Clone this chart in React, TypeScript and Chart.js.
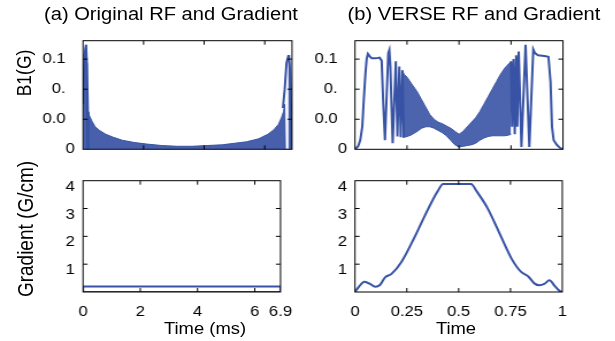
import React, { useEffect, useRef } from "react";
import { Chart, registerables } from "chart.js";

Chart.register(...registerables);

// horizontal stretch of the whole figure (the reference text is horizontally stretched)
const SX = 1.15;
const BLUE = "#3853a5";
const FONT_FAMILY = "'Liberation Sans', Arial, Helvetica, sans-serif";
const TICK_FONT = 14.5;

// ---------------- tick values / labels ----------------
const origTimeTicks = [0, 2, 4, 6, 6.9];
const origTimeLabels = ["0", "2", "4", "6", "6.9"];
const verseTimeTicks = [0, 0.25, 0.5, 0.75, 1];
const verseTimeLabels = ["0", "0.25", "0.5", "0.75", "1"];
const b1Ticks = [0, 0.04, 0.08, 0.12];
const b1Labels = ["0", "0.0  ", "0.  ", "0.1  "];
const gradTicks = [1, 2, 3, 4];
const gradLabels = ["1", "2", "3", "4"];

// ---------------- (a) original RF (ms, G) ----------------
// dense oscillation drawn as its filled envelope
const origRfFillTime = [0, 0.05, 0.1, 0.12, 0.13, 0.135, 0.17, 0.18, 0.22, 0.3, 0.4, 0.55, 0.75, 1.0, 1.3, 1.7, 2.1, 2.6, 3.1, 3.6, 4.1, 4.6, 5.0, 5.4, 5.8, 6.1, 6.3, 6.45, 6.55, 6.62, 6.66, 6.68, 6.79, 6.8, 6.84, 6.87, 6.88, 6.9];
const origRfFillB1 = [0.06, 0.125, 0.139, 0.115, 0.07, 0, 0, 0.048, 0.044, 0.037, 0.03, 0.025, 0.02, 0.016, 0.012, 0.009, 0.007, 0.005, 0.004, 0.004, 0.005, 0.006, 0.008, 0.01, 0.014, 0.02, 0.026, 0.033, 0.042, 0.05, 0.06, 0, 0, 0.124, 0.1, 0.06, 0, 0];
// the two large edge lobes
const origRfLobeTime = [0, 0.05, 0.1, 0.13, 0.16, 0.18, 3.5, 6.6, 6.66, 6.72, 6.78, 6.8, 6.84, 6.87, 6.88];
const origRfLobeB1: (number | null)[] = [0.06, 0.125, 0.139, 0.11, 0.05, 0.0, null, 0.055, 0.08, 0.115, 0.124, 0.124, 0.1, 0.05, 0.0];

// ---------------- (a) original gradient ----------------
const origGradTime = [0, 0, 6.9, 6.9, 0];
const origGradValue = [0, 0.2, 0.2, 0, 0];

// ---------------- (b) VERSE RF (normalised time, G) ----------------
const verseRfTime = [
  0, 0.015, 0.025, 0.035, 0.042, 0.05, 0.056, 0.062, 0.07, 0.08, 0.1, 0.118, 0.128, 0.136, 0.144, 0.152, 0.16, 0.165, 0.17, 0.181, 0.196, 0.204, 0.213, 0.22, 0.228, 0.235,
  0.5,
  0.75, 0.755, 0.762, 0.768, 0.775, 0.78, 0.787, 0.8, 0.82, 0.838, 0.857, 0.865, 0.88, 0.91, 0.93, 0.94, 0.947, 0.955, 0.97, 0.985, 1.0,
];
const verseRfB1: (number | null)[] = [
  0, 0.004, 0.012, 0.03, 0.065, 0.1, 0.12, 0.127, 0.124, 0.121, 0.121, 0.122, 0.118, 0.06, 0.012, 0.07, 0.128, 0.132, 0.11, 0.008, 0.117, 0.017, 0.11, 0.016, 0.105, 0.016,
  null,
  0.117, 0.03, 0.12, 0.02, 0.125, 0.03, 0.13, 0.003, 0.139, 0.003, 0.133, 0.128, 0.125, 0.124, 0.123, 0.09, 0.03, 0.012, 0.006, 0.002, 0,
];
// dense middle oscillation drawn as a band between its envelopes
const verseBandTime = [0.228, 0.235, 0.25, 0.27, 0.3, 0.32, 0.34, 0.36, 0.38, 0.4, 0.42, 0.44, 0.46, 0.48, 0.5, 0.52, 0.54, 0.56, 0.58, 0.6, 0.62, 0.64, 0.66, 0.68, 0.7, 0.72, 0.74, 0.75];
const verseBandUpper = [0.105, 0.1, 0.096, 0.088, 0.076, 0.066, 0.056, 0.046, 0.04, 0.036, 0.034, 0.031, 0.028, 0.024, 0.02, 0.024, 0.03, 0.036, 0.042, 0.05, 0.06, 0.07, 0.08, 0.09, 0.1, 0.108, 0.114, 0.117];
const verseBandLower = [0.016, 0.016, 0.017, 0.019, 0.024, 0.028, 0.03, 0.03, 0.028, 0.025, 0.022, 0.018, 0.012, 0.006, 0.003, 0.004, 0.005, 0.006, 0.008, 0.012, 0.015, 0.017, 0.018, 0.018, 0.018, 0.018, 0.019, 0.02];

// ---------------- (b) VERSE gradient ----------------
const verseGradTime = [0, 0.02, 0.045, 0.07, 0.098, 0.12, 0.144, 0.176, 0.224, 0.288, 0.353, 0.4, 0.425, 0.56, 0.585, 0.641, 0.705, 0.755, 0.8, 0.837, 0.865, 0.89, 0.915, 0.9375, 0.965, 0.985, 1.0];
const verseGradValue = [0, 0.2, 0.37, 0.3, 0.19, 0.25, 0.52, 0.65, 1.08, 1.98, 2.99, 3.64, 3.88, 3.88, 3.64, 2.99, 1.98, 1.2, 0.73, 0.55, 0.31, 0.24, 0.3, 0.42, 0.2, 0.05, 0];

const pts = (xs: number[], ys: (number | null)[]) => xs.map((x, i) => ({ x, y: ys[i] }));

// box + inward tick marks on all four sides
const boxPlugin = {
  id: "matlabBox",
  afterDatasetsDraw(chart: any) {
    const { ctx, chartArea: a, scales } = chart;
    ctx.save();
    ctx.strokeStyle = "#000";
    ctx.lineWidth = 1;
    ctx.strokeRect(a.left, a.top, a.right - a.left, a.bottom - a.top);
    ctx.beginPath();
    const xs = scales.x;
    const ys = scales.y;
    for (const t of xs.ticks) {
      const px = xs.getPixelForValue(t.value);
      if (px <= a.left + 1 || px >= a.right - 1) continue;
      ctx.moveTo(px, a.bottom);
      ctx.lineTo(px, a.bottom - 4);
      ctx.moveTo(px, a.top);
      ctx.lineTo(px, a.top + 4);
    }
    for (const t of ys.ticks) {
      const py = ys.getPixelForValue(t.value);
      if (py <= a.top + 1 || py >= a.bottom - 1) continue;
      ctx.moveTo(a.left, py);
      ctx.lineTo(a.left + 4, py);
      ctx.moveTo(a.right, py);
      ctx.lineTo(a.right - 4, py);
    }
    ctx.stroke();
    ctx.restore();
  },
};

type Spec = {
  sl: number; st: number; sr: number; sb: number;
  area: [number, number, number, number];
  xMin: number; xMax: number; xTicks: number[]; xLabels: string[]; showX: boolean;
  yMin: number; yMax: number; yTicks: number[]; yLabels: string[]; yLabelOffset: number;
  datasets: any[];
};

function buildConfig(s: Spec, cl: number, cw: number) {
  const yW = s.area[0] / SX - cl;
  const padR = cl + cw - s.area[2] / SX;
  const padT = s.area[1] - s.st;
  const xH = s.sb - s.area[3];
  const font = { family: FONT_FAMILY, size: TICK_FONT };
  return {
    type: "line",
    data: { datasets: s.datasets },
    options: {
      animation: false,
      responsive: false,
      maintainAspectRatio: false,
      devicePixelRatio: 1,
      layout: { padding: { left: 0, top: padT, right: padR, bottom: 0 } },
      plugins: { legend: { display: false }, tooltip: { enabled: false }, title: { display: false } },
      elements: { point: { radius: 0 } },
      scales: {
        x: {
          type: "linear",
          min: s.xMin,
          max: s.xMax,
          afterBuildTicks: (sc: any) => { sc.ticks = s.xTicks.map((v) => ({ value: v })); },
          afterFit: (sc: any) => { sc.height = xH; },
          grid: { display: false, drawTicks: false },
          border: { display: false },
          ticks: {
            display: s.showX,
            autoSkip: false,
            maxRotation: 0,
            minRotation: 0,
            padding: 11,
            color: "#000",
            font,
            callback: (_v: any, i: number) => s.xLabels[i],
          },
        },
        y: {
          type: "linear",
          min: s.yMin,
          max: s.yMax,
          afterBuildTicks: (sc: any) => { sc.ticks = s.yTicks.map((v) => ({ value: v })); },
          afterFit: (sc: any) => { sc.width = yW; },
          grid: { display: false, drawTicks: false },
          border: { display: false },
          ticks: {
            autoSkip: false,
            padding: 7,
            labelOffset: s.yLabelOffset,
            color: "#000",
            font,
            callback: (_v: any, i: number) => s.yLabels[i],
          },
        },
      },
    },
    plugins: [boxPlugin],
  };
}

function Panel({ s }: { s: Spec }) {
  const ref = useRef<HTMLCanvasElement>(null);
  const cl = Math.round(s.sl / SX);
  const cw = Math.round((s.sr - s.sl) / SX);
  const ch = s.sb - s.st;
  useEffect(() => {
    const chart = new Chart(ref.current as HTMLCanvasElement, buildConfig(s, cl, cw) as any);
    return () => chart.destroy();
  }, []);
  return (
    <canvas
      ref={ref}
      width={cw}
      height={ch}
      style={{ position: "absolute", left: cl, top: s.st, width: cw, height: ch }}
    />
  );
}

function Label({ x, y, size, text, rotate }: { x: number; y: number; size: number; text: string; rotate?: boolean }) {
  return (
    <div
      style={{
        position: "absolute",
        left: x / SX,
        top: y,
        transform: `translate(-50%, -50%)${rotate ? " rotate(-90deg)" : ""}`,
        fontFamily: FONT_FAMILY,
        fontSize: size,
        lineHeight: 1,
        whiteSpace: "nowrap",
        color: "#000",
      }}
    >
      {text}
    </div>
  );
}

const line = (data: any[], extra: any = {}) => ({
  data,
  borderColor: BLUE,
  backgroundColor: BLUE,
  borderWidth: 2,
  pointRadius: 0,
  fill: false,
  tension: 0,
  ...extra,
});

const panels: Spec[] = [
  {
    sl: 30, st: 25, sr: 305, sb: 165, area: [83, 39, 292, 151],
    xMin: 0, xMax: 6.9, xTicks: origTimeTicks, xLabels: origTimeLabels, showX: false,
    yMin: 0, yMax: 0.1445, yTicks: b1Ticks, yLabels: b1Labels, yLabelOffset: 0,
    datasets: [
      line(pts(origRfFillTime, origRfFillB1), { borderWidth: 1, fill: "origin", backgroundColor: "rgba(56,83,165,0.92)" }),
      line(pts(origRfLobeTime, origRfLobeB1), { borderWidth: 2 }),
    ],
  },
  {
    sl: 305, st: 25, sr: 580, sb: 165, area: [355, 39, 563, 151],
    xMin: 0, xMax: 1, xTicks: verseTimeTicks, xLabels: verseTimeLabels, showX: false,
    yMin: 0, yMax: 0.1445, yTicks: b1Ticks, yLabels: b1Labels, yLabelOffset: 0,
    datasets: [
      line(pts(verseBandTime, verseBandUpper), { borderWidth: 1 }),
      line(pts(verseBandTime, verseBandLower), { borderWidth: 1, fill: "-1", backgroundColor: "rgba(56,83,165,0.9)" }),
      line(pts(verseRfTime, verseRfB1), { borderWidth: 2 }),
    ],
  },
  {
    sl: 30, st: 165, sr: 305, sb: 341, area: [83, 180, 292, 292],
    xMin: 0, xMax: 6.9, xTicks: origTimeTicks, xLabels: origTimeLabels, showX: true,
    yMin: 0, yMax: 4, yTicks: gradTicks, yLabels: gradLabels, yLabelOffset: 6,
    datasets: [line(pts(origGradTime, origGradValue), { borderWidth: 2 })],
  },
  {
    sl: 305, st: 165, sr: 580, sb: 341, area: [355, 180, 563, 292],
    xMin: 0, xMax: 1, xTicks: verseTimeTicks, xLabels: verseTimeLabels, showX: true,
    yMin: 0, yMax: 4, yTicks: gradTicks, yLabels: gradLabels, yLabelOffset: 6,
    datasets: [line(pts(verseGradTime, verseGradValue), { borderWidth: 2, cubicInterpolationMode: "monotone" })],
  },
];

export default function App() {
  return (
    <div style={{ position: "absolute", left: 0, top: 0, width: 615, height: 341, overflow: "hidden", background: "#fff" }}>
      <div style={{ position: "absolute", left: 0, top: 0, width: 615 / SX, height: 341, transform: `scaleX(${SX})`, transformOrigin: "0 0" }}>
        {panels.map((p, i) => (
          <Panel key={i} s={p} />
        ))}
        <Label x={171} y={15} size={17.5} text="(a) Original RF and Gradient" />
        <Label x={474} y={15} size={17.5} text="(b) VERSE RF and Gradient" />
        <Label x={25} y={73} size={17.5} text="B1(G)" rotate />
        <Label x={25} y={229} size={19} text="Gradient (G/cm)" rotate />
        <Label x={205} y={329} size={16} text="Time (ms)" />
        <Label x={456} y={329} size={16} text="Time" />
      </div>
    </div>
  );
}
